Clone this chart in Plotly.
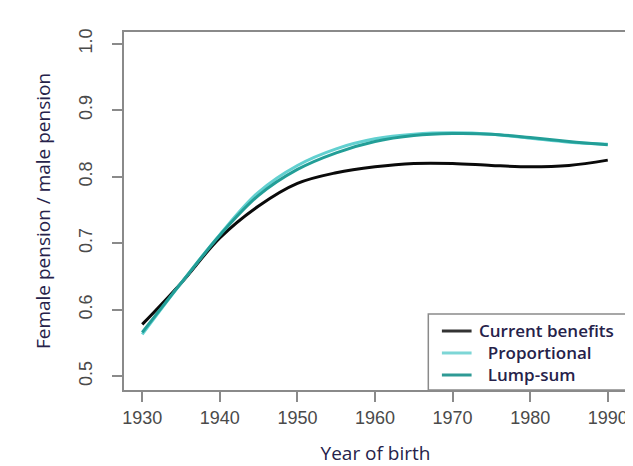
import plotly.graph_objects as go

years = [1930, 1935, 1940, 1945, 1950, 1955, 1960, 1965, 1970, 1975, 1980, 1985, 1990]
current_benefits = [0.578, 0.640, 0.708, 0.756, 0.790, 0.806, 0.815, 0.820, 0.820, 0.817, 0.815, 0.817, 0.825]
proportional = [0.563, 0.640, 0.713, 0.777, 0.817, 0.842, 0.857, 0.864, 0.866, 0.864, 0.858, 0.852, 0.849]
lump_sum = [0.566, 0.640, 0.712, 0.772, 0.811, 0.836, 0.853, 0.862, 0.865, 0.864, 0.859, 0.853, 0.848]

x_ticks = [1930, 1940, 1950, 1960, 1970, 1980, 1990]
y_ticks = [0.5, 0.6, 0.7, 0.8, 0.9, 1.0]
y_tick_text = ["0.5", "0.6", "0.7", "0.8", "0.9", "1.0"]

series_names = ["Current benefits", "Proportional", "Lump-sum"]
series_values = [current_benefits, proportional, lump_sum]
series_colors = ["#0a0a0a", "#62d0d0", "#229e97"]
legend_swatch_colors = ["#333333", "#7dd6d6", "#2e9a95"]
legend_indent = ["", "\u00a0\u00a0", "\u00a0\u00a0"]

TEXT_COLOR = "#26224a"

fig = go.Figure()
for name, vals, color in zip(series_names, series_values, series_colors):
    fig.add_trace(go.Scatter(
        x=years, y=vals, name=name, mode="lines", showlegend=False,
        line=dict(color=color, width=3, shape="spline", smoothing=1.0),
    ))

# legend box drawn in the plot's bottom-right corner (paper coordinates)
fig.add_shape(type="rect", xref="paper", yref="paper",
              x0=0.605, x1=1.0, y0=0.0, y1=0.212,
              line=dict(color="#8a8a8a", width=1.5), fillcolor="white", layer="above")
row_y = [0.1648, 0.1034, 0.0419]
for sw, ry in zip(legend_swatch_colors, row_y):
    fig.add_shape(type="line", xref="paper", yref="paper",
                  x0=0.632, x1=0.691, y0=ry, y1=ry,
                  line=dict(color=sw, width=3), layer="above")
fig.add_annotation(
    xref="paper", yref="paper", x=0.701, y=row_y[1],
    xanchor="left", yanchor="middle", align="left", showarrow=False,
    text="<br>".join(ind + n for ind, n in zip(legend_indent, series_names)),
    font=dict(family="Open Sans, sans-serif", size=17, color=TEXT_COLOR, weight=600),
)

axis_common = dict(
    showline=True, mirror=True, linecolor="#8a8a8a", linewidth=2,
    ticks="outside", ticklen=10, tickwidth=1.5, tickcolor="#8a8a8a",
    showgrid=False, zeroline=False,
    tickfont=dict(family="Liberation Sans, Arial, sans-serif", size=18, color="#4a4a4a"),
)

fig.update_layout(
    width=633, height=466,
    margin=dict(l=116, r=12, t=24, b=84),
    paper_bgcolor="white", plot_bgcolor="white",
    showlegend=False,
    xaxis=dict(
        **axis_common,
        range=[1927.65, 1992.48],
        tickvals=x_ticks,
        title=dict(text="Year of birth", standoff=20,
                   font=dict(family="Open Sans, sans-serif", size=19, color=TEXT_COLOR)),
    ),
    yaxis=dict(
        **axis_common,
        range=[0.4794, 1.0176],
        tickvals=y_ticks, ticktext=y_tick_text, tickangle=-90,
        ticklabelstandoff=13,
        title=dict(text="Female pension / male pension", standoff=20,
                   font=dict(family="Open Sans, sans-serif", size=19, color=TEXT_COLOR)),
    ),
)

fig.write_html("out.html")
